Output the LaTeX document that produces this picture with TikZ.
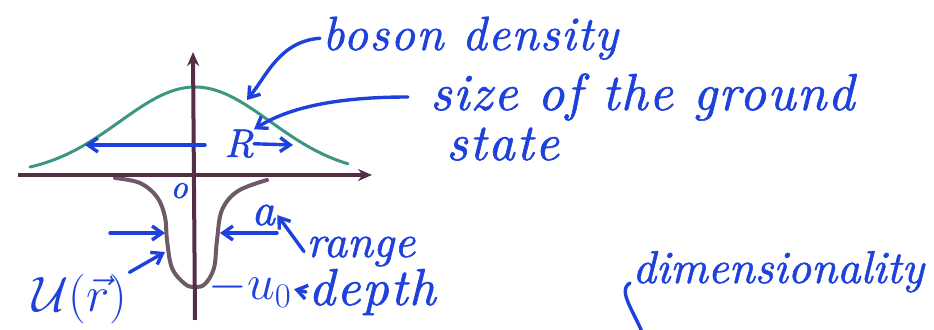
\documentclass[tikz,border=0pt]{standalone}
\usepackage{fontspec}
\usepackage{tikz}
\usetikzlibrary{arrows.meta, calc}
\newfontfamily\handfont{lmroman10-italic.otf}[LetterSpace=3, FakeBold=1.2]
\newfontfamily\handtight{lmroman10-italic.otf}[FakeBold=1.2]
\definecolor{InkBlue}{RGB}{30,65,220}
\definecolor{AxisBrown}{RGB}{85,45,70}
\definecolor{DensGreen}{RGB}{60,150,130}
\definecolor{WellGray}{RGB}{110,90,100}

\begin{document}
\begin{tikzpicture}[x=0.5pt, y=-0.5pt,
          hand/.style={font=\handfont\fontsize{26}{30}\selectfont,
                       text=InkBlue, inner sep=1pt},
          handt/.style={hand, font=\handtight\fontsize{23}{28}\selectfont},
          ink/.style={InkBlue, line width=1.7pt, line cap=round,
                      -{Straight Barb[length=5pt,width=7pt]}},
          axis/.style={AxisBrown, line width=2pt,
                       -{Stealth[length=7pt,width=6pt]}}
        ]
        \useasboundingbox (0,0) rectangle (934,330);

        % Boson density
        \draw[DensGreen, line width=1.5pt, line cap=round]
              plot[domain=30:348, samples=80]
              (\x, {175-88*exp(-(((\x-195)/100)^2)/1.1344)});

        % Potential well
        \draw[WellGray, line width=2pt, line cap=round]
              plot[smooth, tension=0.6] coordinates {(115,178) (140,183)
              (157,197) (165,217) (167,240) (172,268) (185,284) (195,287)
              (205,284) (214,268) (217,240) (222,210) (238,191) (267,180)};

        % Axes
        \coordinate (xl) at (18,175);
        \coordinate (xr) at (372,175);
        \coordinate (yb) at (195,320);
        \coordinate (yt) at (193,52);
        \draw[axis] (xl)--(xr);
        \draw[axis] (yb)--(yt);

        % Labels
        \node[hand, font=\handfont\fontsize{24}{28}\selectfont,
              anchor=base west] (boson) at (320,50) {boson density};
        \node[hand, anchor=base west] (size) at (428,110) {size of the ground};
        \node[hand, anchor=base west] (state) at (444,160) {state};
        \node[handt, anchor=base west] (dim) at (630,283) {dimensionality};
        \node[handt, font=\handtight\fontsize{20}{24}\selectfont, inner sep=0pt,
              anchor=base] (R) at (239,157) {R};
        \node[handt, anchor=base west] (a) at (249,225) {a};
        \node[handt, anchor=base west] (range) at (304,257) {range};
        \node[hand, anchor=base west] (depth) at (306,305) {depth};
        \node[handt, anchor=base west] (u0) at (206,300) {$-u_0$};
        \node[handt, anchor=base west] (U) at (30,312) {$\mathcal{U}(\vec r)$};
        \node[handt, font=\handtight\fontsize{17}{20}\selectfont,
              anchor=base west] (orig) at (168,198) {o};

        % Ground state size
        \coordinate (Rl) at (205,145);
        \coordinate (Rlt) at (85,145);
        \coordinate (Rrt) at (293,145);
        \draw[ink] (Rl)--(Rlt);
        \draw[ink] (R.east)--(Rrt);

        % Range of the potential
        \coordinate (al) at (110,233);
        \coordinate (alt) at (165,233);
        \coordinate (ar) at (277,233);
        \coordinate (art) at (220,233);
        \draw[ink] (al)--(alt);
        \draw[ink] (ar)--(art);

        % Pointers from the words
        \coordinate (bosontip) at (247,100);
        \coordinate (welltip) at (165,252);
        \coordinate (dimend) at (645,340);
        \draw[ink] (boson.west) .. controls +(-40,3) and +(20,-25) .. (bosontip);
        \draw[ink] ([xshift=-10pt]size.west)
              .. controls +(-60,0) and +(40,-25) .. (R.north east);
        \draw[ink] (range.west)--(a.east);
        \draw[ink] (depth.west)--(u0.east);
        \draw[ink] (U.north east)--(welltip);
        \draw[InkBlue, line width=1.7pt, line cap=round]
              (dim.base west) .. controls +(-14,8) and +(-8,-25) .. (dimend);
      \end{tikzpicture}
\end{document}
